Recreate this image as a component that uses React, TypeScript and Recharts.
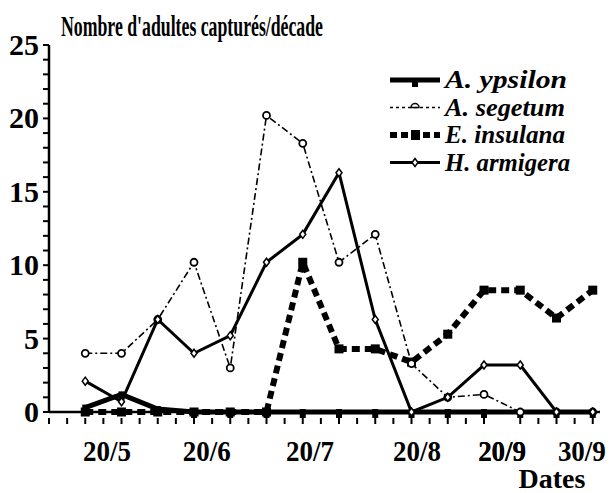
import { LineChart, Line, XAxis, YAxis } from "recharts";

// decades, from early May to end of September
const decade = [0, 1, 2, 3, 4, 5, 6, 7, 8, 9, 10, 11, 12, 13, 14];
const ypsilon = [0.3, 1.2, 0.2, 0, 0, 0, 0, 0, 0, 0, 0, 0, 0, 0, 0];
const segetum = [4, 4, 6.3, 10.2, 3, 20.2, 18.3, 10.2, 12.1, 3.3, 1, 1.2, 0, 0, 0];
const insulana = [0, 0, 0, 0, 0, 0, 10.2, 4.3, 4.3, 3.4, 5.3, 8.3, 8.3, 6.4, 8.3];
const armigera = [2.1, 0.7, 6.3, 4, 5.2, 10.2, 12.1, 16.3, 6.3, 0, 1, 3.2, 3.2, 0, 0];

const dateLabels = ["20/5", "20/6", "20/7", "20/8", "20/9", "30/9"];
const datePos = [0.6, 3.35, 6.2, 9.15, 11.5, 13.7];
const minorTicks = Array.from({ length: 31 }, (_, k) => -1 + k * 0.5);
const xTicks = [...minorTicks, ...datePos].sort((a, b) => a - b);
const yTicks = Array.from({ length: 26 }, (_, k) => k);

const data = decade.map((d, i) => ({
  d,
  ypsilon: ypsilon[i],
  segetum: segetum[i],
  insulana: insulana[i],
  armigera: armigera[i],
}));

const FONT = "'Liberation Serif', 'DejaVu Serif', serif";

const squareDot = (p: any) => (
  <rect key={`i-${p.index}`} x={p.cx - 4.5} y={p.cy - 4.5} width={9} height={9} fill="#000" />
);
const stubDot = (p: any) => (
  <rect key={`y-${p.index}`} x={p.cx - 3} y={p.cy - 3} width={6} height={9} fill="#000" />
);
const circleDot = (p: any) => (
  <circle key={`s-${p.index}`} cx={p.cx} cy={p.cy} r={3.5} fill="#fff" stroke="#000" strokeWidth={1.8} />
);
const diamondDot = (p: any) => (
  <path
    key={`a-${p.index}`}
    d={`M${p.cx},${p.cy - 4}L${p.cx + 3},${p.cy}L${p.cx},${p.cy + 4}L${p.cx - 3},${p.cy}Z`}
    fill="#fff"
    stroke="#000"
    strokeWidth={1.5}
  />
);

const YTick = (p: any) =>
  p.payload.value % 5 === 0 ? (
    <text x={p.x} y={p.y + 10} textAnchor="end" fontFamily={FONT} fontWeight="bold" fontSize={30} fill="#000">
      {p.payload.value}
    </text>
  ) : (
    <g />
  );

// minor ticks get a small mark, date positions get a label
const XTick = (p: any) => {
  const i = datePos.indexOf(p.payload.value);
  if (i < 0) return <line x1={p.x} x2={p.x} y1={p.y} y2={p.y + 6} stroke="#000" strokeWidth={2} />;
  return (
    <text
      x={p.x}
      y={p.y + 43}
      textAnchor="middle"
      fontFamily={FONT}
      fontWeight="bold"
      fontSize={30}
      textLength={48}
      lengthAdjust="spacingAndGlyphs"
      fill="#000"
    >
      {dateLabels[i]}
    </text>
  );
};

const legendRows = [
  { name: "A. ypsilon", w: 5, dash: undefined, mark: "stub", len: 122 },
  { name: "A. segetum", w: 1.5, dash: "3 3", mark: "circle", len: 120 },
  { name: "E. insulana", w: 6, dash: "7 4", mark: "square", len: 120 },
  { name: "H. armigera", w: 3, dash: undefined, mark: "diamond", len: 125 },
];

const LegendBox = () => (
  <g transform="translate(385,62)">
    {legendRows.map((r, k) => {
      const y = 18 + k * 27.5;
      return (
        <g key={r.name}>
          <line x1={5} x2={55} y1={y} y2={y} stroke="#000" strokeWidth={r.w} strokeDasharray={r.dash} />
          {r.mark === "stub" && <rect x={27} y={y - 2} width={6} height={9} fill="#000" />}
          {r.mark === "circle" && <path d={`M26,${y}a4,4 0 0 1 8,0Z`} fill="#fff" stroke="#000" strokeWidth={1.5} />}
          {r.mark === "square" && <rect x={26} y={y - 5} width={9} height={10} fill="#000" />}
          {r.mark === "diamond" && (
            <path d={`M30,${y - 4}L33,${y}L30,${y + 4}L27,${y}Z`} fill="#fff" stroke="#000" strokeWidth={1.5} />
          )}
          <text
            x={60}
            y={y + 8}
            fontFamily={FONT}
            fontWeight="bold"
            fontStyle="italic"
            fontSize={26}
            textLength={r.len}
            lengthAdjust="spacingAndGlyphs"
            fill="#000"
          >
            {r.name}
          </text>
        </g>
      );
    })}
  </g>
);

export default function App() {
  return (
    <div style={{ position: "absolute", left: 0, top: 0, width: 612, height: 493, background: "#fff" }}>
      <LineChart width={612} height={493} data={data} margin={{ top: 45, right: 12, left: 0, bottom: 0 }}>
        <XAxis
          dataKey="d"
          type="number"
          domain={[-1, 14.2]}
          allowDataOverflow
          ticks={xTicks}
          interval={0}
          tick={<XTick />}
          tickLine={false}
          tickSize={6}
          tickMargin={0}
          height={81}
          stroke="#000"
          strokeWidth={2.5}
        />
        <YAxis
          domain={[0, 25]}
          ticks={yTicks}
          interval={0}
          width={49}
          tickSize={6}
          tickMargin={4}
          tick={<YTick />}
          stroke="#000"
          strokeWidth={2.5}
          tickLine={{ stroke: "#000", strokeWidth: 2 }}
        />
        <Line
          dataKey="insulana"
          name="E. insulana"
          stroke="#000"
          strokeWidth={6}
          strokeDasharray="8 5"
          dot={squareDot}
          isAnimationActive={false}
        />
        <Line
          dataKey="ypsilon"
          name="A. ypsilon"
          stroke="#000"
          strokeWidth={5}
          dot={stubDot}
          isAnimationActive={false}
        />
        <Line
          dataKey="segetum"
          name="A. segetum"
          stroke="#000"
          strokeWidth={1.6}
          strokeDasharray="7 3 2 3"
          dot={circleDot}
          isAnimationActive={false}
        />
        <Line
          dataKey="armigera"
          name="H. armigera"
          stroke="#000"
          strokeWidth={3}
          dot={diamondDot}
          isAnimationActive={false}
        />
      </LineChart>
      <svg width={612} height={493} style={{ position: "absolute", left: 0, top: 0, pointerEvents: "none" }}>
        <text
          x={61}
          y={36}
          fontFamily={FONT}
          fontWeight="bold"
          fontSize={30}
          textLength={262}
          lengthAdjust="spacingAndGlyphs"
          fill="#000"
        >
          Nombre d'adultes capturés/décade
        </text>
        <LegendBox />
        <text x={552} y={488} textAnchor="middle" fontFamily={FONT} fontWeight="bold" fontSize={28} fill="#000">
          Dates
        </text>
      </svg>
    </div>
  );
}
